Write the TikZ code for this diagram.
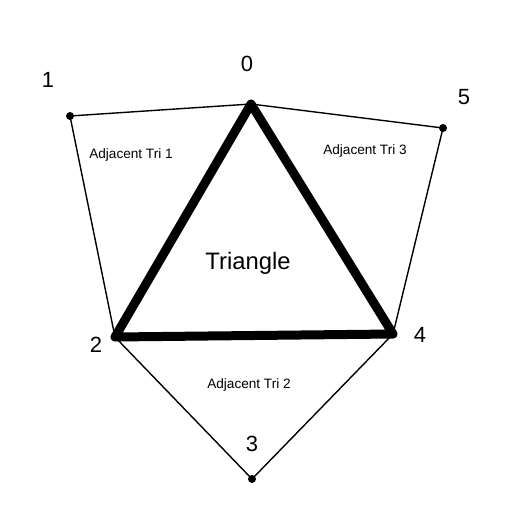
\documentclass[tikz,border=0pt]{standalone}
\usepackage{fontspec}
\setmainfont{Liberation Sans}
\tikzset{
  thinedge/.style={line width=1.4pt},
  boldedge/.style={line width=9pt, line join=round, line cap=round},
  vlabel/.style={font=\fontsize{22}{22}\selectfont},
  trilabel/.style={font=\fontsize{13.6}{14}\selectfont},
}
\begin{document}
\begin{tikzpicture}[x=1pt,y=-1pt]
            \useasboundingbox (0,0) rectangle (512,512);

            % Vertices
            \coordinate (v0) at (251,104);
            \coordinate (v1) at (70,116);
            \coordinate (v2) at (115,337);
            \coordinate (v3) at (252,479);
            \coordinate (v4) at (393,334);
            \coordinate (v5) at (443,128);

            % Adjacent triangles
            \draw[thinedge] (v0) -- (v1) -- (v2);
            \draw[thinedge] (v2) -- (v3) -- (v4);
            \draw[thinedge] (v4) -- (v5) -- (v0);

            % Main triangle
            \draw[boldedge] (v0) -- (v2) -- (v4) -- cycle;

            % Points
            \fill (v1) circle (4pt);
            \fill (v3) circle (4pt);
            \fill (v5) circle (4pt);

            % Labels
            \node[vlabel] (l0) at (247,64) {0};
            \node[vlabel] (l1) at (48,80) {1};
            \node[vlabel] (l2) at (96,345) {2};
            \node[vlabel] (l3) at (252,444) {3};
            \node[vlabel] (l4) at (420,335) {4};
            \node[vlabel] (l5) at (464,97) {5};

            \node[font=\fontsize{23.8}{24}\selectfont] (tri) at (248,263) {Triangle};
            \node[trilabel] (adj1) at (131,155) {Adjacent Tri 1};
            \node[trilabel] (adj2) at (249,385) {Adjacent Tri 2};
            \node[trilabel] (adj3) at (365,151) {Adjacent Tri 3};
        \end{tikzpicture}
\end{document}
